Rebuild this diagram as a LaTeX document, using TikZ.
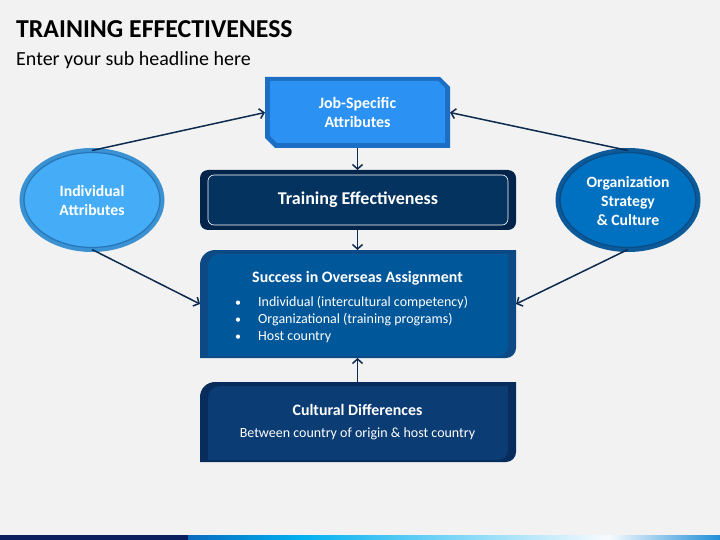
\documentclass[tikz,border=0pt]{standalone}
\usepackage{fontspec}
\setmainfont{Carlito}
\usetikzlibrary{arrows.meta,shapes.geometric}
\definecolor{bg}{HTML}{F2F2F2}
\definecolor{arrowc}{HTML}{0D2B4E}
\definecolor{jobin}{HTML}{2B91F2}
\definecolor{jobout}{HTML}{1B6EC3}
\definecolor{trout}{HTML}{03244A}
\definecolor{trin}{HTML}{04335F}
\definecolor{suout}{HTML}{0D4A85}
\definecolor{suin}{HTML}{00579A}
\definecolor{cuout}{HTML}{082D5C}
\definecolor{cuin}{HTML}{0B3C73}
\definecolor{indfill}{HTML}{45ADF8}
\definecolor{indline}{HTML}{3A92D2}
\definecolor{indring}{HTML}{2877B8}
\definecolor{orgfill}{HTML}{0070C0}
\definecolor{orgline}{HTML}{0D5A9A}
\definecolor{orgring}{HTML}{0A4C86}
\definecolor{barnavy}{HTML}{0B1F5E}
\definecolor{barA}{HTML}{0A6ABF}
\definecolor{barB}{HTML}{00B0F0}
\definecolor{barC}{HTML}{F8FBFE}
\definecolor{barD}{HTML}{1E8ED8}
\pgfdeclarehorizontalshading{barshade}{100bp}{color(0bp)=(barA); color(25bp)=(barA); color(35.5bp)=(barB); color(64.5bp)=(barC); color(75bp)=(barD); color(100bp)=(barD)}
\tikzset{
  holder/.style={inner sep=0pt, outer sep=0pt, text=white, align=center},
  link/.style={draw=arrowc, line width=1.5pt, -{Straight Barb[length=4.5pt,width=10pt,line width=1.5pt]}},
  ellfill/.style={ellipse, inner sep=0pt, outer sep=0pt, text=white, align=center,
    font=\bfseries\fontsize{15.7}{18.8}\selectfont, minimum width=140pt, minimum height=99pt, line width=5pt},
  ellring/.style={ellipse, inner sep=0pt, outer sep=0pt, minimum width=136pt, minimum height=95pt, line width=1.2pt}
}
\begin{document}
\begin{tikzpicture}[x=1pt,y=-1pt]
\fill[bg] (0,0) rectangle (720,540);
\useasboundingbox (0,0) rectangle (720,540);

% title
\node[anchor=base west, inner sep=0pt, font=\bfseries\fontsize{25.8}{30}\selectfont] (title) at (16,37.3) {TRAINING EFFECTIVENESS};
\node[anchor=base west, inner sep=0pt, font=\fontsize{20}{23}\selectfont] (sub) at (16,65.7) {Enter your sub headline here};

% bottom bar
\fill[barnavy] (0,535) rectangle (188,540);
\shade[shading=barshade] (188,535) rectangle (720,540);

% job-specific box
\fill[jobout] (265,77) -- (440,77) -- (450,87) -- (450,148) -- (275,148) -- (265,138) -- cycle;
\fill[jobin] (270,81) -- (438,81) -- (445,88) -- (445,143) -- (277,143) -- (270,136) -- cycle;
\node[holder, minimum width=185pt, minimum height=71pt, font=\bfseries\fontsize{15.9}{19}\selectfont] (job) at (357.5,112.5) {Job-Specific\\Attributes};

% training effectiveness
\fill[trout, rounded corners=8pt] (200,170) rectangle (516,230);
\draw[trin, fill=trin, rounded corners=6pt] (208,175) rectangle (508,225);
\draw[white, line width=0.6pt, rounded corners=6pt] (208,175) rectangle (508,225);
\node[holder, minimum width=316pt, minimum height=60pt, font=\bfseries\fontsize{18}{21}\selectfont] (train) at (358,200) {Training Effectiveness};

% success box
\fill[suout] (200,358) -- (200,265) arc[start angle=180, end angle=270, radius=15] -- (516,250) -- (516,348) arc[start angle=0, end angle=90, radius=10] -- cycle;
\fill[suin] (208,356) -- (208,266) arc[start angle=180, end angle=270, radius=12] -- (508,254) -- (508,346) arc[start angle=0, end angle=90, radius=10] -- cycle;
\node[holder, minimum width=316pt, minimum height=108pt] (succ) at (358,304) {};
\node[anchor=base, inner sep=0pt, text=white, font=\bfseries\fontsize{15.9}{18}\selectfont] (succt) at (357.5,282) {Success in Overseas Assignment};
\foreach \yy/\tt [count=\i] in {306/{Individual (intercultural competency)},323/{Organizational (training programs)},340/{Host country}}{
  \node[anchor=base, inner sep=0pt, text=white, font=\fontsize{12}{16}\selectfont] (bul\i) at (238,\yy) {\textbullet};
  \node[anchor=base west, inner sep=0pt, text=white, font=\fontsize{14}{16}\selectfont] (item\i) at (258,\yy) {\tt};
}

% cultural differences
\fill[cuout] (200,462) -- (200,397) arc[start angle=180, end angle=270, radius=15] -- (516,382) -- (516,452) arc[start angle=0, end angle=90, radius=10] -- cycle;
\fill[cuin] (208,460) -- (208,398) arc[start angle=180, end angle=270, radius=12] -- (508,386) -- (508,450) arc[start angle=0, end angle=90, radius=10] -- cycle;
\node[holder, minimum width=316pt, minimum height=80pt] (cult) at (358,422) {};
\node[anchor=base, inner sep=0pt, text=white, font=\bfseries\fontsize{15.9}{18}\selectfont] (cultt) at (357.5,415.5) {Cultural Differences};
\node[anchor=base, inner sep=0pt, text=white, font=\fontsize{14}{16}\selectfont] (cults) at (357.5,437.5) {Between country of origin \& host country};

% ellipses
\node[ellfill, fill=indfill, draw=indline] (ind) at (92,200) {};
\node[ellring, draw=indring] (indr) at (92,200) {};
\node[holder, font=\bfseries\fontsize{15.7}{18.8}\selectfont] (indt) at (92,200.5) {Individual\\Attributes};
\node[ellfill, fill=orgfill, draw=orgline] (org) at (628,200) {};
\node[ellring, draw=orgring] (orgr) at (628,200) {};
\node[holder, font=\bfseries\fontsize{15.7}{18.8}\selectfont] (orgt) at (628,201) {Organization\\Strategy\\\& Culture};

% connectors
\draw[link] (ind.north) -- (job.west);
\draw[link] (org.north) -- (job.east);
\draw[link] (ind.south) -- (succ.west);
\draw[link] (org.south) -- (succ.east);
\draw[link] (job.south) -- (train.north -| job.south);
\draw[link] (train.south -| job.south) -- (succ.north -| job.south);
\draw[link] (cult.north -| job.south) -- (succ.south -| job.south);
\end{tikzpicture}
\end{document}
